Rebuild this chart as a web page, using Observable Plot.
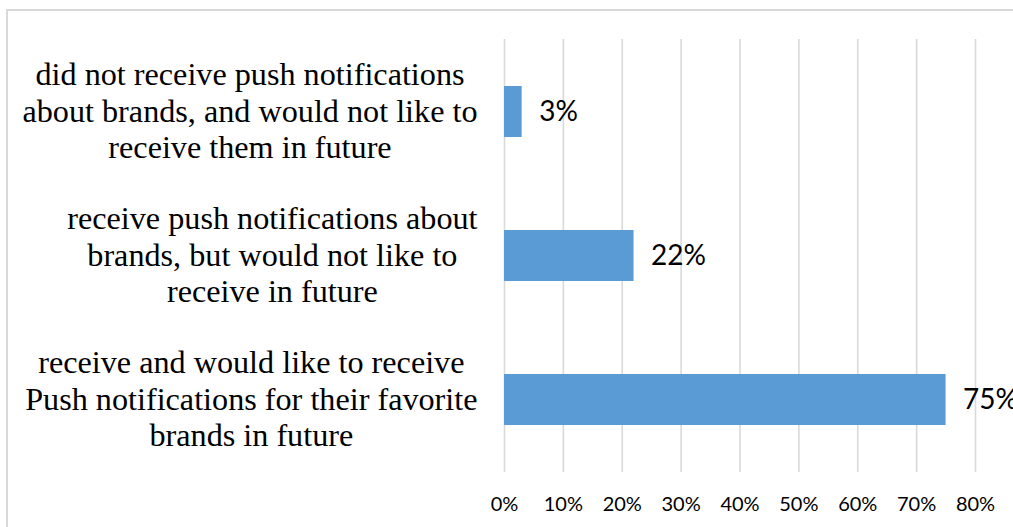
<!DOCTYPE html>
<html>
<head>
<meta charset="utf-8">
<script src="https://cdn.jsdelivr.net/npm/d3@7"></script>
<script src="https://cdn.jsdelivr.net/npm/@observablehq/plot@0.6"></script>
<style>
  html, body { margin: 0; padding: 0; background: #fff; overflow: hidden; }
  #wrap { position: relative; width: 1013px; height: 527px; }
  #border { position: absolute; left: 6px; top: 9px; right: -10px; bottom: -10px;
            border-left: 2px solid #d9d9d9; border-top: 2px solid #d9d9d9; pointer-events: none; }
  #chart svg { display: block; overflow: hidden; }
</style>
</head>
<body>
<div id="wrap"><div id="chart"></div><div id="border"></div></div>
<script>
// Categories (top to bottom) with the wrapped label lines as shown in the chart
const categories = [
  "did not receive push notifications about brands, and would not like to receive them in future",
  "receive push notifications about brands, but would not like to receive in future",
  "receive and would like to receive Push notifications for their favorite brands in future"
];
const labelLines = [
  ["did not receive push notifications", "about brands, and would not like to", "receive them in future"],
  ["receive push notifications about", "brands, but would not like to", "receive in future"],
  ["receive and would like to receive", "Push notifications for their favorite", "brands in future"]
];
const values = [0.03, 0.22, 0.75];
const xTicks = [0, 0.1, 0.2, 0.3, 0.4, 0.5, 0.6, 0.7, 0.8];

const data = categories.map((c, i) => ({category: c, value: values[i]}));

const serif = "'Liberation Serif', 'Times New Roman', serif";
const sans = "Lato, 'Open Sans', sans-serif";
const catSize = 32.2;
const marginLeft = 504;
const labelRight = 477;

// measure label block widths to center lines within a right-aligned block
const ctx = document.createElement("canvas").getContext("2d");
ctx.font = `${catSize}px ${serif}`;
const blockW = labelLines.map(lines => d3.max(lines, l => ctx.measureText(l).width));

const labelMarks = categories.map((c, i) =>
  Plot.text([c], {
    y: d => d,
    text: () => labelLines[i].join("\n"),
    frameAnchor: "left",
    textAnchor: "middle",
    dx: (labelRight - marginLeft) - blockW[i] / 2,
    dy: -2,
    lineHeight: 36.5 / catSize,
    fontSize: catSize,
    fontFamily: serif,
    fill: "#000"
  })
);

const chart = Plot.plot({
  width: 1013,
  height: 527,
  marginLeft: marginLeft,
  marginRight: 38,
  marginTop: 39,
  marginBottom: 55,
  style: {background: "transparent"},
  x: {domain: [0, 0.8], ticks: xTicks, tickFormat: d3.format(".0%")},
  y: {domain: categories, paddingInner: 0.645, paddingOuter: 0.3225, axis: null},
  marks: [
    Plot.gridX(xTicks, {stroke: "#d9d9d9", strokeOpacity: 1, strokeWidth: 1.6}),
    Plot.barX(data, {x: "value", y: "category", fill: "#5b9bd5"}),
    Plot.text(data, {
      x: "value", y: "category", text: d => d3.format(".0%")(d.value),
      textAnchor: "start", dx: 17, fontSize: 28, fontFamily: sans, fill: "#000"
    }),
    Plot.axisX({
      ticks: xTicks, tickFormat: d3.format(".0%"), tickSize: 0, tickPadding: 24,
      fontSize: 20, fontFamily: sans, color: "#000", label: null
    }),
    ...labelMarks
  ]
});
document.getElementById("chart").appendChild(chart);
</script>
</body>
</html>
